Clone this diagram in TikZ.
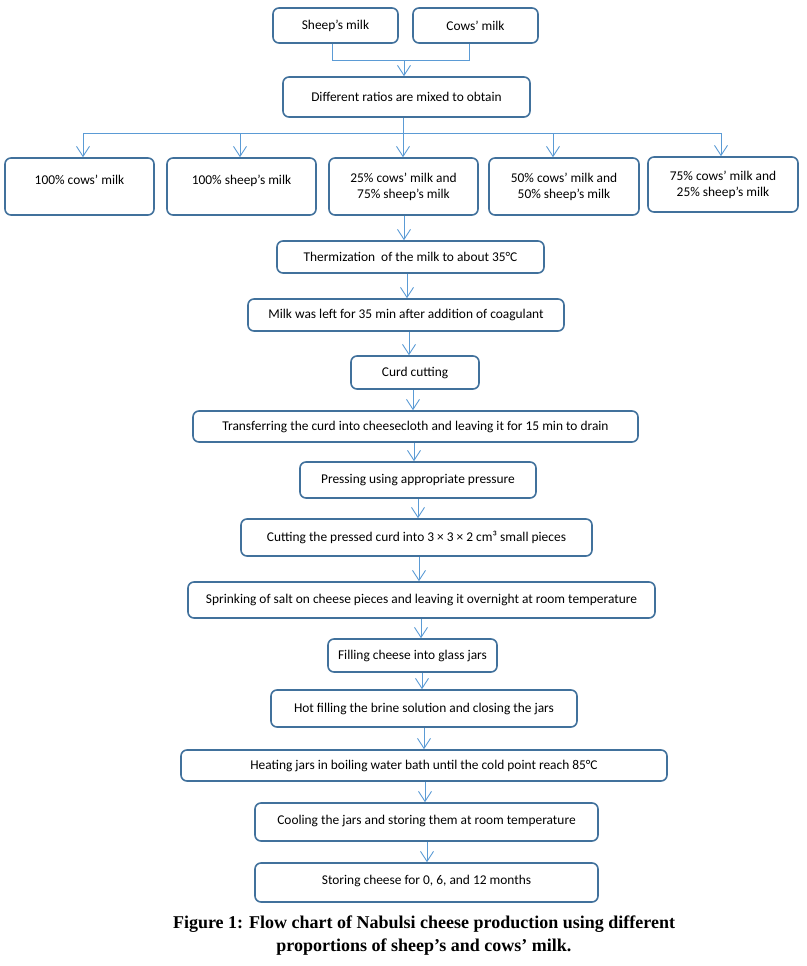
\documentclass[tikz,border=0pt]{standalone}
\usepackage{fontspec}
\setmainfont{Carlito}
\newfontfamily\capfont{Liberation Serif}
\usetikzlibrary{arrows.meta}
\definecolor{boxline}{RGB}{65,113,156}
\definecolor{arrline}{RGB}{91,155,213}
\tikzset{
  box/.style={draw=boxline, line width=1.6pt, rounded corners=6pt, fill=white,
    inner sep=0pt, align=center, font=\fontsize{13.4}{16}\selectfont},
  arr/.style={draw=arrline, line width=0.9pt, -{Straight Barb[length=10pt,width=13pt,line width=0.9pt]}},
  conn/.style={draw=arrline, line width=0.9pt},
}
\newcommand{\uptext}[2]{\raisebox{#1}[0pt][0pt]{#2}}
\begin{document}
\begin{tikzpicture}[x=1pt,y=-1pt]
\useasboundingbox (0,0) rectangle (806,966);
\node[box, minimum width=125pt, minimum height=35pt] (sheep) at (335.5,25.5) {Sheep’s milk};
\node[box, minimum width=125pt, minimum height=35pt] (cows) at (475.5,25.5) {Cows’ milk};
\node[box, minimum width=247pt, minimum height=40pt] (mix) at (406.5,97) {Different ratios are mixed to obtain};
\node[box, minimum width=149pt, minimum height=57pt] (r1) at (79.5,186.5) {\uptext{2pt}{100\% cows’ milk}};
\node[box, minimum width=149pt, minimum height=57pt] (r2) at (241.5,186.5) {\uptext{2pt}{100\% sheep’s milk}};
\node[box, minimum width=149pt, minimum height=57pt] (r3) at (403.5,186.5) {25\% cows’ milk and\\75\% sheep’s milk};
\node[box, minimum width=150pt, minimum height=57pt] (r4) at (564,186.5) {50\% cows’ milk and\\50\% sheep’s milk};
\node[box, minimum width=150pt, minimum height=55pt] (r5) at (723,184.5) {75\% cows’ milk and\\25\% sheep’s milk};
\node[box, minimum width=267pt, minimum height=32pt] (therm) at (410.5,257) {Thermization\ \ of the milk to about 35°C};
\node[box, minimum width=316pt, minimum height=32pt] (left) at (406,315) {Milk was left for 35 min after addition of coagulant};
\node[box, minimum width=128pt, minimum height=33pt] (curd) at (415,372.5) {Curd cutting};
\node[box, minimum width=445pt, minimum height=31pt] (trans) at (415.5,426.5) {Transferring the curd into cheesecloth and leaving it for 15 min to drain};
\node[box, minimum width=236pt, minimum height=36pt] (press) at (418,480) {Pressing using appropriate pressure};
\node[box, minimum width=351pt, minimum height=37pt] (cut) at (416.5,537.5) {Cutting the pressed curd into 3 × 3 × 2 cm³ small pieces};
\node[box, minimum width=467pt, minimum height=36pt] (sprink) at (421.5,600) {Sprinking of salt on cheese pieces and leaving it overnight at room temperature};
\node[box, minimum width=169pt, minimum height=33pt] (fill) at (412.5,655.5) {Filling cheese into glass jars};
\node[box, minimum width=306pt, minimum height=37pt] (hot) at (424,708.5) {Hot filling the brine solution and closing the jars};
\node[box, minimum width=486pt, minimum height=31pt] (heat) at (424,765.5) {Heating jars in boiling water bath until the cold point reach 85°C};
\node[box, minimum width=343pt, minimum height=38pt] (cool) at (426.5,822) {\uptext{-2.5pt}{Cooling the jars and storing them at room temperature}};
\node[box, minimum width=343pt, minimum height=39pt] (store) at (426.5,882.5) {\uptext{-2pt}{Storing cheese for 0, 6, and 12 months}};
\node[font=\capfont\bfseries\fontsize{18}{23}\selectfont, align=center] (cap) at (424,936) {Figure 1: Flow chart of Nabulsi cheese production using different\\proportions of sheep’s and cows’ milk.};
% top merge
\coordinate (j1) at (332,60.5);
\coordinate (j2) at (469,60.5);
\coordinate (jm) at (404,60.5);
\draw[conn] (sheep.south -| j1) -- (j1) -- (j2) -- (cows.south -| j2);
\draw[arr] (jm) -- (mix.north -| jm);
% split
\coordinate (sm) at (403,133);
\coordinate (s1) at (83,133);
\coordinate (s2) at (240,133);
\coordinate (s4) at (553,133);
\coordinate (s5) at (721,133);
\draw[conn] (mix.south -| sm) -- (sm);
\draw[conn] (s1) -- (s5);
\draw[arr] (s1) -- (r1.north -| s1);
\draw[arr] (s2) -- (r2.north -| s2);
\draw[arr] (sm) -- (r3.north -| sm);
\draw[arr] (s4) -- (r4.north -| s4);
\draw[arr] (s5) -- (r5.north -| s5);
% chain
\foreach \a/\b/\x in {r3/therm/404, therm/left/407, left/curd/409, curd/trans/413, trans/press/414, press/cut/418, cut/sprink/419, sprink/fill/421, fill/hot/422, hot/heat/424, heat/cool/425, cool/store/427}{
  \coordinate (cx) at (\x,0);
  \draw[arr] (\a.south -| cx) -- (\b.north -| cx);
}
\end{tikzpicture}
\end{document}
